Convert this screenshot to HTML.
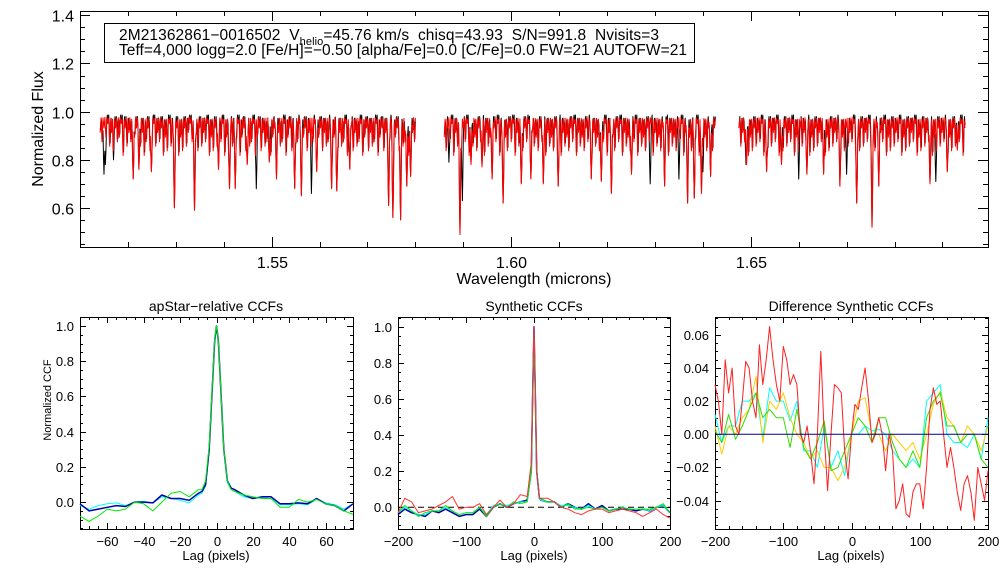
<!DOCTYPE html>
<html><head><meta charset="utf-8"><style>
body{margin:0;background:#fff;}
svg{display:block;font-family:"Liberation Sans",sans-serif;}
</style></head><body>
<svg id="s" width="1008" height="576" viewBox="0 0 1008 576"></svg>
<script>
// ---------- spectrum data ----------
const chipRanges = [[1.5142,1.5800],[1.5860,1.6426],[1.6475,1.6947]];
const forestStep = 0.0004;
const forestChip1 = "3524163725418263574216385274163528471635284726315847263518472635184726351842736518427365184273651842736518427365184273651842736518427365184273651842736518427365184";
const forestChip2 = "4725183647251836472518364725183647251836472518364725183647251836472518364725183647251836472518364725183647251836472518364725183647251836472";
const forestChip3 = "2635184726351847263518472635184726351847263518472635184726351847263518472635184726351847263518472635184726351847263518";
const deepWl = [1.5211,1.5223,1.5249,1.5297,1.5339,1.5389,1.5412,1.5424,1.5449,1.5495,1.5510,1.5548,1.5562,1.5594,1.5625,1.5636,1.5663,1.5744,1.5753,1.5769,1.5782,1.5790,
 1.5893,1.5916,1.5939,1.5960,1.5983,1.6021,1.6041,1.6067,1.6098,1.6167,1.6188,1.6209,1.6251,1.6320,1.6368,1.6382,1.6397,1.6416,
 1.6491,1.6533,1.6564,1.6617,1.6652,1.6686,1.6721,1.6753,1.6767,1.6874,1.6910,1.6931];
const deepFlux = [0.72,0.76,0.75,0.60,0.59,0.76,0.68,0.68,0.78,0.79,0.72,0.68,0.65,0.75,0.68,0.67,0.76,0.61,0.56,0.55,0.69,0.73,
 0.49,0.78,0.77,0.72,0.62,0.70,0.72,0.70,0.69,0.72,0.71,0.66,0.74,0.69,0.62,0.64,0.66,0.73,
 0.78,0.75,0.78,0.74,0.74,0.69,0.62,0.52,0.69,0.70,0.75,0.84];
const blackOnlyWl = [1.5150,1.5153,1.5170,1.5468,1.5583,1.5870,1.5898,1.6290,1.6350,1.6400,1.6490,1.6600,1.6700,1.6886];
const blackOnlyFlux = [0.74,0.78,0.80,0.68,0.66,0.79,0.63,0.70,0.72,0.75,0.78,0.72,0.74,0.71];

// ---------- CCF data ----------
const lag1 = [-75,-70,-65,-60,-55,-50,-45,-40,-35,-30,-25,-20,-15,-10,-8,-6,-4,-2,-1,0,1,2,4,6,8,10,15,20,25,30,35,40,45,50,55,60,65,70,75];
const ccf1Blue = [-0.01,-0.05,-0.04,-0.03,-0.02,-0.025,0.0,0.0,-0.005,0.04,0.02,0.02,0.01,0.05,0.06,0.1,0.3,0.72,0.92,1.0,0.92,0.72,0.3,0.12,0.08,0.07,0.04,0.02,0.03,0.03,-0.01,-0.01,-0.005,-0.01,0.02,-0.01,-0.02,-0.05,-0.01];
const ccf1Cyan = [-0.02,-0.04,-0.02,-0.01,-0.005,-0.02,0.0,0.005,-0.005,0.03,0.02,0.01,-0.005,0.04,0.05,0.09,0.3,0.72,0.92,0.99,0.92,0.72,0.3,0.11,0.07,0.06,0.03,0.02,0.025,0.02,-0.015,-0.015,-0.01,-0.015,0.015,-0.005,-0.015,-0.04,-0.01];
const ccf1Green = [-0.08,-0.11,-0.08,-0.04,-0.05,-0.04,0.0,-0.01,-0.05,0.0,0.05,0.06,0.03,0.07,0.07,0.12,0.32,0.73,0.93,1.0,0.92,0.72,0.3,0.12,0.07,0.06,0.04,0.03,0.02,0.02,-0.03,-0.03,0.015,0.0,0.015,-0.01,-0.02,-0.05,-0.07];

const lag2 = [-200,-190,-180,-170,-160,-150,-140,-130,-120,-110,-100,-90,-80,-70,-60,-50,-40,-30,-20,-10,-4,-2,0,2,4,8,10,20,30,40,50,60,70,80,90,100,110,120,130,140,150,160,170,180,190,200];
const ccf2Blue = [-0.04,-0.01,-0.03,-0.04,-0.05,-0.02,-0.03,-0.01,-0.03,-0.05,-0.04,-0.04,-0.01,-0.05,0.0,0.02,0.0,0.02,0.03,0.04,0.2,0.6,1.0,0.6,0.2,0.05,0.04,0.03,0.03,0.0,0.02,0.0,-0.01,0.02,-0.01,0.01,-0.02,-0.01,-0.01,-0.01,-0.02,-0.01,-0.02,0.0,0.01,-0.03];
const ccf2Cyan = [-0.03,0.0,-0.02,-0.04,-0.04,-0.02,-0.02,0.0,-0.02,-0.04,-0.03,-0.03,0.0,-0.04,0.01,0.02,0.01,0.02,0.03,0.03,0.2,0.6,0.99,0.6,0.2,0.05,0.04,0.03,0.03,0.01,0.01,0.0,-0.01,0.01,-0.01,0.0,-0.02,-0.01,0.0,-0.01,-0.01,-0.01,-0.02,0.0,0.01,-0.03];
const ccf2Green = [-0.03,0.01,-0.02,-0.05,-0.03,-0.02,-0.02,0.01,-0.02,-0.04,-0.03,-0.03,0.0,-0.05,0.0,0.02,0.0,0.03,0.02,0.03,0.2,0.6,0.98,0.6,0.2,0.05,0.05,0.03,0.03,0.0,0.02,-0.01,-0.01,0.0,-0.01,0.0,-0.02,-0.01,0.0,-0.01,-0.01,-0.01,-0.01,0.0,0.02,-0.03];
const ccf2Red = [-0.03,0.05,0.03,-0.03,-0.02,-0.01,0.01,0.03,0.06,-0.01,0.0,0.0,0.02,-0.04,0.0,0.04,0.0,0.02,0.07,0.06,0.25,0.65,1.0,0.65,0.2,0.05,0.05,0.05,0.03,0.0,-0.01,-0.03,-0.04,-0.02,-0.01,-0.01,-0.03,-0.02,-0.01,-0.02,-0.03,-0.05,-0.03,-0.01,-0.04,-0.06];

const lag3 = [-200,-190,-180,-170,-160,-150,-140,-130,-120,-110,-100,-90,-80,-70,-60,-50,-40,-30,-20,-10,0,10,20,30,40,50,60,70,80,90,100,110,120,130,140,150,160,170,180,190,200];
const diffCyan = [0.012,-0.005,0.005,0.005,0.02,0.02,0.025,-0.002,0.028,0.02,0.02,0.008,0.02,-0.01,-0.01,-0.02,0.005,-0.02,-0.01,-0.025,0.0,0.0,0.005,0.002,0.003,0.0,-0.01,-0.015,-0.02,-0.015,-0.02,0.02,0.025,0.03,0.0,-0.005,-0.005,-0.008,0.0,-0.015,0.01];
const diffYellow = [0.005,-0.012,0.005,0.0,0.01,0.015,0.035,-0.005,0.02,0.015,0.025,0.01,0.0,-0.005,-0.015,-0.01,-0.02,-0.02,-0.028,-0.02,0.0,0.02,0.022,0.0,0.0,-0.01,0.0,-0.005,-0.01,-0.005,-0.015,0.0,0.018,0.026,0.01,0.005,-0.005,0.005,0.0,-0.01,0.005];
const diffGreen = [0.002,-0.005,0.012,-0.003,0.005,0.015,0.025,0.01,0.015,0.01,0.01,-0.008,0.015,-0.008,-0.015,-0.005,0.008,-0.022,-0.02,-0.01,0.0,0.01,0.005,-0.005,0.01,0.01,-0.005,-0.015,-0.02,-0.01,-0.02,0.01,0.02,0.025,0.005,0.005,-0.005,0.0,0.0,-0.015,-0.02];
const lag3Red = [-200,-195,-190,-185,-180,-175,-170,-165,-160,-155,-150,-145,-140,-135,-130,-125,-120,-115,-110,-105,-100,-95,-90,-85,-80,-75,-70,-65,-60,-55,-50,-45,-40,-35,-30,-25,-20,-15,-10,-5,0,5,10,15,20,25,30,35,40,45,50,55,60,65,70,75,80,85,90,95,100,105,110,115,120,125,130,135,140,145,150,155,160,165,170,175,180,185,190,195,200];
const diffRed = [0.03,0.02,0.0,0.045,0.025,0.04,0.005,0.0,0.02,0.044,0.04,0.02,0.01,0.054,0.03,0.045,0.065,0.045,0.03,0.02,0.053,0.045,0.03,0.036,0.03,0.0,-0.005,0.005,-0.01,-0.03,0.0,0.05,0.0,-0.034,0.0,0.03,0.028,0.025,-0.01,-0.027,0.0,0.018,0.015,0.028,0.04,0.02,-0.005,0.0,0.01,0.0,-0.022,0.0,-0.01,-0.045,-0.04,-0.03,-0.048,-0.05,-0.035,-0.03,-0.03,-0.045,-0.02,0.015,0.028,0.018,0.02,0.0,-0.02,-0.008,-0.02,-0.035,-0.046,-0.03,-0.025,-0.035,-0.052,-0.02,-0.03,-0.04,-0.022];

// ---------- helpers ----------
const NS="http://www.w3.org/2000/svg";
const root=document.getElementById('s');
function mk(tag,attrs,parent){const e=document.createElementNS(NS,tag);for(const k in attrs)e.setAttribute(k,attrs[k]);(parent||root).appendChild(e);return e;}
function txt(x,y,s,size,anchor,name,rot){const t=mk('text',{x:x,y:y,'font-size':size,'text-anchor':anchor||'middle',fill:'#000'});
 if(rot)t.setAttribute('transform','rotate(-90 '+x+' '+y+')');t.textContent=s;
 
 return t;}
function scale(d0,d1,r0,r1){return v=>r0+(v-d0)/(d1-d0)*(r1-r0);}
function axes(p,name){
 const g=mk('g',{});
 
 
 mk('rect',{x:p.x0+0.5,y:p.y0+0.5,width:p.x1-p.x0,height:p.y1-p.y0,fill:'none',stroke:'#000','stroke-width':1},g);
 const sx=scale(p.xd[0],p.xd[1],p.x0,p.x1), sy=scale(p.yd[0],p.yd[1],p.y1,p.y0);
 const eps=1e-9;
 for(let i=Math.ceil(p.xd[0]/p.xmin-eps);i*p.xmin<=p.xd[1]+eps;i++){
  const v=i*p.xmin;
  const X=Math.round(sx(v))+0.5;const maj=Math.abs(v/p.xmaj-Math.round(v/p.xmaj))<1e-6;const L=maj?p.tl:p.tl/2;
  mk('line',{x1:X,x2:X,y1:p.y1,y2:p.y1-L,stroke:'#000'},g);mk('line',{x1:X,x2:X,y1:p.y0,y2:p.y0+L,stroke:'#000'},g);
  if(maj)txt(X,p.y1+p.xlo,p.xfmt(v),p.fs,'middle','x-tick-label');}
 for(let i=Math.ceil(p.yd[0]/p.ymin-eps);i*p.ymin<=p.yd[1]+eps;i++){
  const v=i*p.ymin;
  const Y=Math.round(sy(v))+0.5;const maj=Math.abs(v/p.ymaj-Math.round(v/p.ymaj))<1e-6;const L=maj?p.tl:p.tl/2;
  mk('line',{x1:p.x0,x2:p.x0+L,y1:Y,y2:Y,stroke:'#000'},g);mk('line',{x1:p.x1,x2:p.x1-L,y1:Y,y2:Y,stroke:'#000'},g);
  if(maj)txt(p.x0-6,Y+p.fs*0.36,p.yfmt(v),p.fs,'end','y-tick-label');}
 return {sx:sx,sy:sy};}
function poly(xs,ys,sx,sy,color,name,w,dash){
 const pts=xs.map((x,i)=>sx(x).toFixed(1)+','+sy(ys[i]).toFixed(1)).join(' ');
 const e=mk('polyline',{points:pts,fill:'none',stroke:color,'stroke-width':w||1,'stroke-linejoin':'round'});
 if(dash)e.setAttribute('stroke-dasharray',dash);
 
 return e;}

// ---------- top spectrum ----------
const topPanel={x0:80,x1:988,y0:11,y1:247,xd:[1.51,1.6995],yd:[0.438,1.418],xmaj:0.05,xmin:0.01,ymaj:0.2,ymin:0.05,tl:10,fs:16,xlo:21,
 xfmt:v=>v.toFixed(2),yfmt:v=>v.toFixed(1)};
const A=axes(topPanel,'spectrum-axes');
const forests=[forestChip1,forestChip2,forestChip3].map(s=>s.split('').map(Number));
function spectrum(ci,black){
 const a=chipRanges[ci][0],b=chipRanges[ci][1];const f=forests[ci];const n=f.length;const xs=[],ys=[];
 const sigF=0.0001, sigD=0.00013;
 for(let w=a;w<=b;w+=0.0001){
  let cont=black?1.0:0.99;
  let dF=0;
  const k=Math.round((w-a)/forestStep);
  for(let j=k-1;j<=k+1;j++){if(j<0)continue;const lw=a+j*forestStep+(black?0.00005:0);
   const dep=(0.02+f[j%n]*0.019)*(black?1.1:1);dF=Math.max(dF,dep*Math.exp(-0.5*Math.pow((w-lw)/sigF,2)));}
  let d=dF;
  for(let i=0;i<deepWl.length;i++){const lw=deepWl[i];if(Math.abs(w-lw)<0.0008){d=Math.max(d,(0.99-deepFlux[i])*(black?1.02:1)*Math.exp(-0.5*Math.pow((w-lw)/sigD,2)));}}
  if(black){for(let i=0;i<blackOnlyWl.length;i++){const lw=blackOnlyWl[i];if(Math.abs(w-lw)<0.0008)d=Math.max(d,(1-blackOnlyFlux[i])*Math.exp(-0.5*Math.pow((w-lw)/sigD,2)));}}
  xs.push(w);ys.push(Math.max(cont-d,0.45));}
 return [xs,ys];}
for(let c=0;c<3;c++){const r=spectrum(c,true);poly(r[0],r[1],A.sx,A.sy,'#000','observed-spectrum-chip'+(c+1),1);}
for(let c=0;c<3;c++){const r=spectrum(c,false);poly(r[0],r[1],A.sx,A.sy,'#ff0000','model-spectrum-chip'+(c+1),1);}
const box=mk('rect',{x:104.5,y:23.5,width:590,height:39,fill:'#fff',stroke:'#000'});


const t1=mk('text',{x:119,y:40,'font-size':15.5,textLength:540,lengthAdjust:'spacing'});


t1.style.whiteSpace='pre';
const ts1=mk('tspan',{},t1);ts1.textContent='2M21362861\u22120016502  V';
const ts2=mk('tspan',{'font-size':11,dy:5},t1);ts2.textContent='helio';
const ts3=mk('tspan',{dy:-5},t1);ts3.textContent='=45.76 km/s  chisq=43.93  S/N=991.8  Nvisits=3';
const t2=txt(119,55,'Teff=4,000 logg=2.0 [Fe/H]=\u22120.50 [alpha/Fe]=0.0 [C/Fe]=0.0 FW=21 AUTOFW=21',15.5,'start','info-line-2');
t2.setAttribute('textLength',568);
t2.setAttribute('lengthAdjust','spacing');
txt(534,284,'Wavelength (microns)',16,'middle','x-axis-title');
txt(43,129,'Normalized Flux',16,'middle','y-axis-title',true);

// ---------- CCF panels ----------
const fmtInt=v=>String(Math.round(v)).replace('-','\u2212');
const p1={x0:80,x1:353,y0:317,y1:529,xd:[-75,75],yd:[-0.153,1.051],xmaj:20,xmin:5,ymaj:0.2,ymin:0.05,tl:6,fs:13,xlo:17,
 xfmt:fmtInt,yfmt:v=>v.toFixed(1).replace('-','\u2212')};
const B1=axes(p1,'apstar-ccf-axes');
poly(lag1,ccf1Cyan,B1.sx,B1.sy,'#00ffff','ccf1-cyan',1);
poly(lag1,ccf1Blue,B1.sx,B1.sy,'#0000aa','ccf1-blue',1.5);
poly(lag1,ccf1Green,B1.sx,B1.sy,'#00ee00','ccf1-green',1);
txt(216,311,'apStar\u2212relative CCFs',14,'middle','panel1-title');
txt(216,560,'Lag (pixels)',13,'middle','panel1-x-title');
txt(51,400,'Normalized CCF',11,'middle','panel1-y-title',true);

const p2={x0:398,x1:670,y0:317,y1:529,xd:[-200,200],yd:[-0.12,1.054],xmaj:100,xmin:20,ymaj:0.2,ymin:0.05,tl:6,fs:13,xlo:17,
 xfmt:fmtInt,yfmt:v=>v.toFixed(1).replace('-','\u2212')};
const B2=axes(p2,'synthetic-ccf-axes');
poly([-200,200],[0,0],B2.sx,B2.sy,'#000','ccf2-zero-line',1,'6,4');
poly(lag2,ccf2Blue,B2.sx,B2.sy,'#0000aa','ccf2-blue',1.5);
poly(lag2,ccf2Cyan,B2.sx,B2.sy,'#00ffff','ccf2-cyan',1);
poly(lag2,ccf2Green,B2.sx,B2.sy,'#00ee00','ccf2-green',1);
poly(lag2,ccf2Red,B2.sx,B2.sy,'#ff3030','ccf2-red',1);
txt(534,311,'Synthetic CCFs',14,'middle','panel2-title');
txt(534,560,'Lag (pixels)',13,'middle','panel2-x-title');

const p3={x0:715,x1:988,y0:317,y1:529,xd:[-200,200],yd:[-0.0572,0.0708],xmaj:100,xmin:20,ymaj:0.02,ymin:0.005,tl:6,fs:13,xlo:17,
 xfmt:fmtInt,yfmt:v=>v.toFixed(2).replace('-','\u2212')};
const B3=axes(p3,'difference-ccf-axes');
poly(lag3,diffCyan,B3.sx,B3.sy,'#00ffff','diff-cyan',1);
poly(lag3,diffYellow,B3.sx,B3.sy,'#ffcc00','diff-yellow',1);
poly(lag3,diffGreen,B3.sx,B3.sy,'#33dd00','diff-green',1);
poly(lag3Red,diffRed,B3.sx,B3.sy,'#ff2020','diff-red',1);
poly([-200,200],[0,0],B3.sx,B3.sy,'#00008b','diff-zero-line',1);
txt(851,311,'Difference Synthetic CCFs',14,'middle','panel3-title');
txt(851,560,'Lag (pixels)',13,'middle','panel3-x-title');
</script>
</body></html>
